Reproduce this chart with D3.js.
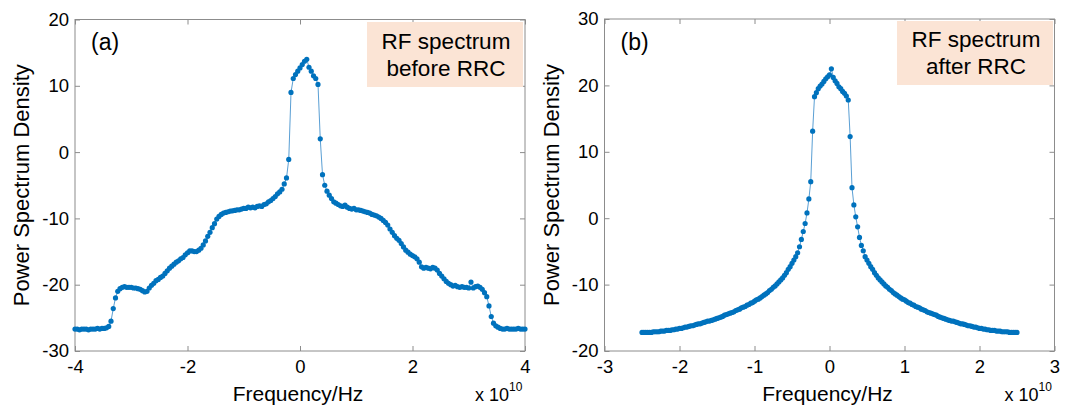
<!DOCTYPE html>
<html>
<head>
<meta charset="utf-8">
<script src="https://cdn.jsdelivr.net/npm/d3@7"></script>
<style>
  body { margin: 0; background: #fff; }
  svg text { font-family: "Liberation Sans", Arial, sans-serif; fill: #000; }
</style>
</head>
<body>
<div id="chart"></div>
<script>
// RF spectrum before / after RRC (units of 1e10 Hz)

// panel (a): frequency grid -4 .. 4, step 0.04
const freqStartA = -4, freqStepA = 0.04;
const psdA = [
  -26.7,-26.7,-26.8,-26.7,-26.7,-26.7,-26.8,-26.7,-26.7,-26.7,-26.6,-26.7,-26.6,-26.6,
  -26.5,-26.3,-25.5,-23.6,-22.0,-21.0,-20.6,-20.4,-20.3,-20.4,-20.4,-20.4,-20.5,-20.5,
  -20.6,-20.7,-20.9,-21.1,-21.0,-20.5,-20.1,-19.8,-19.4,-19.2,-18.9,-18.7,-18.3,-17.9,
  -17.5,-17.2,-16.9,-16.6,-16.4,-16.1,-15.9,-15.5,-15.2,-14.9,-14.9,-15.0,-15.0,-14.8,
  -14.5,-14.0,-13.4,-12.7,-12.1,-11.4,-10.8,-10.1,-9.7,-9.4,-9.2,-9.1,-9.0,-8.9,
  -8.85,-8.8,-8.7,-8.7,-8.6,-8.5,-8.5,-8.3,-8.4,-8.3,-8.4,-8.2,-8.1,-8.2,-7.9,
  -7.8,-7.5,-7.3,-7.0,-6.7,-6.3,-6.0,-5.6,-4.8,-3.9,-1.1,9.0,11.1,11.7,12.2,
  12.7,13.2,13.7,14.0,12.8,12.2,11.5,11.1,10.2,2.0,-3.4,-5.0,-5.9,-6.5,-7.0,
  -7.5,-7.7,-7.9,-8.1,-8.2,-8.0,-8.3,-8.5,-8.6,-8.5,-8.7,-8.7,-8.8,-8.9,-9.0,
  -9.1,-9.2,-9.4,-9.5,-9.6,-9.8,-10.0,-10.3,-10.6,-11.0,-11.6,-12.1,-12.6,-13.0,
  -13.3,-13.8,-14.3,-14.8,-15.1,-15.4,-15.6,-15.8,-16.1,-16.6,-17.3,-17.5,-17.4,
  -17.5,-17.6,-17.4,-17.5,-17.8,-18.3,-18.7,-19.1,-19.5,-19.8,-20.0,-20.2,-20.1,
  -20.3,-20.4,-20.3,-20.4,-20.4,-20.5,-19.6,-20.5,-20.3,-20.2,-20.4,-20.7,-21.2,
  -21.8,-23.2,-24.8,-25.8,-26.2,-26.4,
  -26.6,-26.7,-26.7,-26.6,-26.7,-26.7,-26.7,-26.7,-26.6,-26.7,-26.7,-26.7
];

// panel (b): frequency grid -2.5 .. 2.5, step 0.025
const freqStartB = -2.5, freqStepB = 0.025;
const psdB = [
  -17.2,-17.2,-17.2,-17.2,-17.2,-17.2,-17.1,-17.1,-17.1,-17.1,
  -17.0,-17.0,-17.0,-16.9,-16.9,-16.9,-16.8,-16.8,-16.7,-16.7,
  -16.6,-16.6,-16.5,-16.4,-16.4,-16.3,-16.2,-16.2,-16.1,-16.0,
  -15.9,-15.9,-15.8,-15.7,-15.6,-15.5,-15.5,-15.4,-15.3,-15.2,
  -15.1,-15.0,-14.9,-14.8,-14.6,-14.5,-14.4,-14.3,-14.2,-14.1,
  -13.9,-13.8,-13.7,-13.5,-13.4,-13.3,-13.1,-13.0,-12.8,-12.7,
  -12.5,-12.3,-12.2,-12.0,-11.8,-11.6,-11.4,-11.2,-10.9,-10.7,
  -10.4,-10.2,-9.9,-9.6,-9.3,-9.0,-8.6,-8.2,-7.7,-7.3,
  -6.8,-6.3,-5.8,-5.2,-4.3,-3.2,-2.0,-0.8,0.8,2.9,
  5.5,13.1,18.3,18.9,19.5,19.9,20.2,20.6,21.0,21.3,
  21.6,22.5,21.2,20.7,20.3,19.8,19.5,19.1,18.8,18.4,
  17.8,12.3,4.6,2.0,0.2,-1.3,-2.9,-4.1,-4.9,
  -5.8,-6.3,-6.8,-7.3,-7.7,-8.2,-8.6,-9.0,-9.3,-9.6,
  -9.9,-10.2,-10.4,-10.7,-10.9,-11.2,-11.4,-11.6,-11.8,-12.0,
  -12.2,-12.3,-12.5,-12.7,-12.8,-13.0,-13.1,-13.3,-13.4,-13.5,
  -13.7,-13.8,-13.9,-14.1,-14.2,-14.3,-14.4,-14.5,-14.6,-14.8,
  -14.9,-15.0,-15.1,-15.2,-15.3,-15.4,-15.5,-15.5,-15.6,-15.7,
  -15.8,-15.9,-15.9,-16.0,-16.1,-16.2,-16.2,-16.3,-16.4,-16.4,
  -16.5,-16.6,-16.6,-16.7,-16.7,-16.8,-16.8,-16.9,-16.9,-16.9,
  -17.0,-17.0,-17.0,-17.1,-17.1,-17.1,-17.1,-17.2,-17.2,-17.2,
  -17.2,-17.2
];

// axis ticks
const xTicksA = [-4, -2, 0, 2, 4];
const yTicksA = [-30, -20, -10, 0, 10, 20];
const xTicksB = [-3, -2, -1, 0, 1, 2, 3];
const yTicksB = [-20, -10, 0, 10, 20, 30];

const panelLabels = ["(a)", "(b)"];
const boxTexts = [["RF spectrum", "before RRC"], ["RF spectrum", "after RRC"]];

const width = 1068, height = 408;
const blue = "#0072BD";
const plainNum = d => String(d);   // keep ASCII hyphen like the original

const svg = d3.select("#chart")
  .append("svg")
  .attr("width", width)
  .attr("height", height);

function drawPanel(p) {
  const x = d3.scaleLinear().domain(p.xDomain).range([p.left, p.right]);
  const y = d3.scaleLinear().domain(p.yDomain).range([p.bottom, p.top]);

  const data = p.values.map((v, i) => ({ f: p.start + i * p.step, v: v }));

  const g = svg.append("g");

  // frame
  g.append("rect")
    .attr("x", p.left).attr("y", p.top)
    .attr("width", p.right - p.left).attr("height", p.bottom - p.top)
    .attr("fill", "none").attr("stroke", "#8c8c8c").attr("stroke-width", 1);

  // bottom axis with labels, ticks pointing inward
  const bx = g.append("g")
    .attr("transform", `translate(0,${p.bottom})`)
    .call(d3.axisBottom(x).tickValues(p.xTicks).tickFormat(plainNum)
      .tickSizeInner(-5).tickSizeOuter(0).tickPadding(9));
  bx.selectAll("text").attr("font-size", "18.5px").attr("font-family", null);

  // top axis, ticks only
  g.append("g")
    .attr("transform", `translate(0,${p.top})`)
    .call(d3.axisTop(x).tickValues(p.xTicks).tickSizeInner(-5).tickSizeOuter(0).tickFormat(""));

  // left axis with labels
  const ly = g.append("g")
    .attr("transform", `translate(${p.left},0)`)
    .call(d3.axisLeft(y).tickValues(p.yTicks).tickFormat(plainNum)
      .tickSizeInner(-5).tickSizeOuter(0).tickPadding(6));
  ly.selectAll("text").attr("font-size", "18.5px").attr("font-family", null);

  // right axis, ticks only
  g.append("g")
    .attr("transform", `translate(${p.right},0)`)
    .call(d3.axisRight(y).tickValues(p.yTicks).tickSizeInner(-5).tickSizeOuter(0).tickFormat(""));

  g.selectAll(".domain").remove();
  g.selectAll(".tick line").attr("stroke", "#8c8c8c");
  g.selectAll(".tick text").attr("fill", "#000");

  // annotation box
  g.append("rect")
    .attr("x", p.box[0]).attr("y", p.box[1])
    .attr("width", p.box[2]).attr("height", p.box[3])
    .attr("fill", "#fbe4d5");
  p.boxText.forEach((t, i) => {
    g.append("text")
      .attr("x", p.box[0] + p.box[2] / 2 + 1)
      .attr("y", p.boxBase[i])
      .attr("text-anchor", "middle")
      .attr("font-size", "22.5px")
      .text(t);
  });

  // panel label
  g.append("text")
    .attr("x", p.left + 16).attr("y", 50)
    .attr("font-size", "23px")
    .text(p.label);

  // series: thin line + dot markers
  const line = d3.line().x(d => x(d.f)).y(d => y(d.v));
  g.append("path")
    .datum(data)
    .attr("d", line)
    .attr("fill", "none")
    .attr("stroke", "#5a9fd4")
    .attr("stroke-width", 1);

  g.selectAll("circle.pt")
    .data(data)
    .enter()
    .append("circle")
      .attr("class", "pt")
      .attr("cx", d => x(d.f))
      .attr("cy", d => y(d.v))
      .attr("r", 2.6)
      .attr("fill", blue);

  // axis titles
  g.append("text")
    .attr("transform", `translate(${p.left - 46},${(p.top + p.bottom) / 2}) rotate(-90)`)
    .attr("text-anchor", "middle")
    .attr("font-size", "22px")
    .text("Power Spectrum Density");

  g.append("text")
    .attr("x", (p.left + p.right) / 2 - 2).attr("y", 401)
    .attr("text-anchor", "middle")
    .attr("font-size", "21px")
    .text("Frequency/Hz");

  // exponent note
  g.append("text")
    .attr("x", p.right - 16).attr("y", 401)
    .attr("text-anchor", "end")
    .attr("font-size", "18px")
    .text("x 10");
  g.append("text")
    .attr("x", p.right - 16).attr("y", 391)
    .attr("font-size", "12px")
    .text("10");
}

drawPanel({
  left: 75, right: 525, top: 19.5, bottom: 351,
  xDomain: [-4, 4], yDomain: [-30, 20],
  xTicks: xTicksA, yTicks: yTicksA,
  start: freqStartA, step: freqStepA, values: psdA,
  label: panelLabels[0], boxText: boxTexts[0],
  box: [367, 22, 156, 65], boxBase: [49, 76]
});

drawPanel({
  left: 604.5, right: 1054.5, top: 19, bottom: 351,
  xDomain: [-3, 3], yDomain: [-20, 30],
  xTicks: xTicksB, yTicks: yTicksB,
  start: freqStartB, step: freqStepB, values: psdB,
  label: panelLabels[1], boxText: boxTexts[1],
  box: [897, 21, 156, 64], boxBase: [47, 74]
});
</script>
</body>
</html>
